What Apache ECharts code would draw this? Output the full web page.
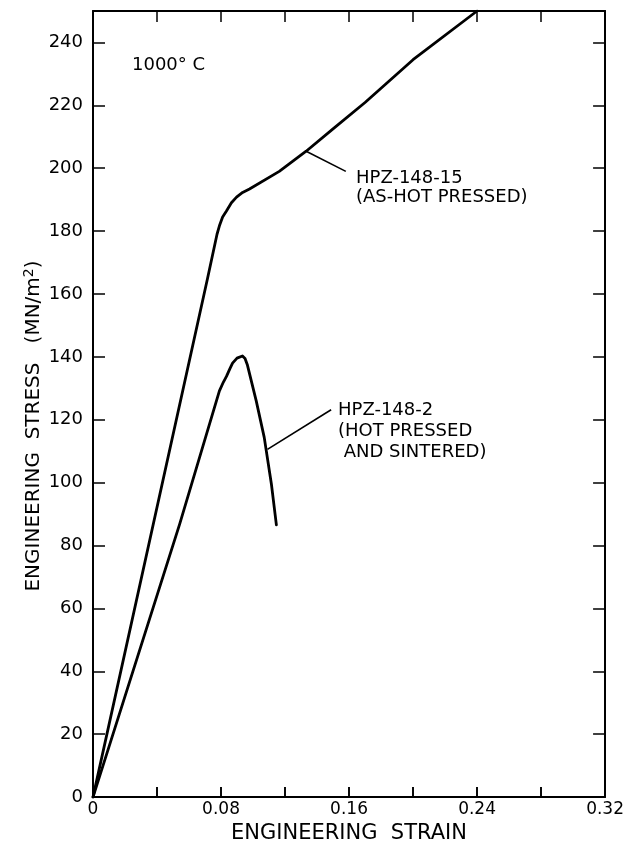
<!DOCTYPE html>
<html>
<head>
<meta charset="utf-8">
<script src="https://cdn.jsdelivr.net/npm/echarts@6/dist/echarts.min.js"></script>
<style>
html,body{margin:0;padding:0;background:#fff;}
#chart{width:627px;height:849px;}
</style>
</head>
<body>
<div id="chart"></div>
<script>
// Engineering strain / stress (MN/m^2)
var hp15Strain = [0, 0.0716, 0.0775, 0.079, 0.081, 0.0834, 0.0865, 0.0897, 0.0935, 0.0978, 0.1164, 0.1332, 0.15, 0.17, 0.20, 0.24];
var hp15Stress = [0, 165, 179, 181.7, 184.5, 186.4, 189, 190.8, 192.3, 193.4, 199, 205.4, 212.5, 220.9, 234.5, 250];

var hp2Strain = [0, 0.0542, 0.079, 0.0815, 0.0834, 0.0855, 0.0872, 0.09, 0.0934, 0.095, 0.0965, 0.102, 0.107, 0.1115, 0.1146];
var hp2Stress = [0, 86.9, 129.2, 132, 133.8, 136.2, 138, 139.6, 140.3, 139.5, 137.4, 126, 114.4, 99.5, 86.6];

var xTickLabels = ['0', '0.08', '0.16', '0.24', '0.32'];
var yTickLabels = ['0', '20', '40', '60', '80', '100', '120', '140', '160', '180', '200', '220', '240'];

// annotation leader lines (data coordinates)
var lead15 = [[0.1332, 205.4], [0.158, 199]];
var lead2 = [[0.109, 110.6], [0.1488, 123.2]];

function zip(a, b) { return a.map(function (v, i) { return [v, b[i]]; }); }

var FONT = 'DejaVu Sans';
var chart = echarts.init(document.getElementById('chart'));

function xLabelFmt(v) {
  var k = Math.round(v / 0.04);
  if (k % 2 !== 0) return '';
  return xTickLabels[k / 2] || '';
}
function yLabelFmt(v) {
  var k = Math.round(v / 20);
  return yTickLabels[k] !== undefined ? yTickLabels[k] : '';
}

var axisLineStyle = { color: '#000', width: 2 };

chart.setOption({
  backgroundColor: '#fff',
  animation: false,
  grid: { left: 93, right: 20, top: 11, bottom: 47, containLabel: false },
  xAxis: [{
    type: 'value', min: 0, max: 0.32, interval: 0.04, position: 'bottom',
    axisLine: { onZero: false, lineStyle: axisLineStyle },
    axisTick: { show: true, inside: true, length: 10, lineStyle: { color: '#000', width: 1.6 } },
    splitLine: { show: false },
    axisLabel: { formatter: xLabelFmt, color: '#000', fontFamily: FONT, fontSize: 17, margin: 4 },
    name: 'ENGINEERING  STRAIN', nameLocation: 'middle', nameGap: 20,
    nameTextStyle: { color: '#000', fontFamily: FONT, fontSize: 21 }
  }, {
    type: 'value', min: 0, max: 0.32, interval: 0.04, position: 'top',
    axisLine: { onZero: false, lineStyle: axisLineStyle },
    axisTick: { show: true, inside: true, length: 11, lineStyle: { color: '#000', width: 1.5 } },
    splitLine: { show: false },
    axisLabel: { show: false }
  }, {
    type: 'value', min: 0, max: 0.32, interval: 0.04, position: 'bottom', offset: 0,
    axisLine: { show: false, onZero: false },
    axisTick: { show: true, inside: true, length: 10, lineStyle: { color: '#000', width: 1.6 } },
    splitLine: { show: false },
    axisLabel: { show: false }
  }],
  yAxis: [{
    type: 'value', min: 0, max: 250, interval: 20, position: 'left',
    axisLine: { onZero: false, lineStyle: axisLineStyle },
    axisTick: { inside: true, length: 12, lineStyle: { color: '#000', width: 1.5 } },
    splitLine: { show: false },
    axisLabel: { formatter: yLabelFmt, color: '#000', fontFamily: FONT, fontSize: 18, margin: 10 }
  }, {
    type: 'value', min: 0, max: 250, interval: 20, position: 'right',
    axisLine: { onZero: false, lineStyle: axisLineStyle },
    axisTick: { inside: true, length: 12, lineStyle: { color: '#000', width: 1.5 } },
    splitLine: { show: false },
    axisLabel: { show: false }
  }],
  graphic: [{
    type: 'text', x: 34, y: 426, rotation: Math.PI / 2,
    style: {
      text: '{a|ENGINEERING  STRESS   (MN/m}{s|2}{a|)}',
      align: 'center', verticalAlign: 'middle',
      rich: {
        a: { fontFamily: FONT, fontSize: 20, fill: '#000', color: '#000' },
        s: { fontFamily: FONT, fontSize: 14, fill: '#000', color: '#000', verticalAlign: 'top', padding: [0, 0, 10, 0] }
      }
    }
  }, {
    type: 'text', x: 132, y: 65,
    style: { text: '1000° C', fontFamily: FONT, fontSize: 18, fill: '#000', verticalAlign: 'middle' }
  }, {
    type: 'text', x: 356, y: 169,
    style: { text: 'HPZ-148-15\n(AS-HOT PRESSED)', fontFamily: FONT, fontSize: 18, lineHeight: 19, fill: '#000' }
  }, {
    type: 'text', x: 338, y: 400,
    style: { text: 'HPZ-148-2\n(HOT PRESSED\n AND SINTERED)', fontFamily: FONT, fontSize: 18, lineHeight: 21, fill: '#000' }
  }],
  series: [{
    name: 'HPZ-148-15', type: 'line', data: zip(hp15Strain, hp15Stress),
    smooth: false, showSymbol: false, symbol: 'none',
    lineStyle: { color: '#000', width: 2.8, join: 'round', cap: 'round' }, z: 5
  }, {
    name: 'HPZ-148-2', type: 'line', data: zip(hp2Strain, hp2Stress),
    smooth: false, showSymbol: false, symbol: 'none',
    lineStyle: { color: '#000', width: 2.8, join: 'round', cap: 'round' }, z: 5
  }, {
    name: 'lead15', type: 'line', data: lead15, showSymbol: false, symbol: 'none',
    lineStyle: { color: '#000', width: 1.6 }
  }, {
    name: 'lead2', type: 'line', data: lead2, showSymbol: false, symbol: 'none',
    lineStyle: { color: '#000', width: 1.6 }
  }]
});
</script>
</body>
</html>
